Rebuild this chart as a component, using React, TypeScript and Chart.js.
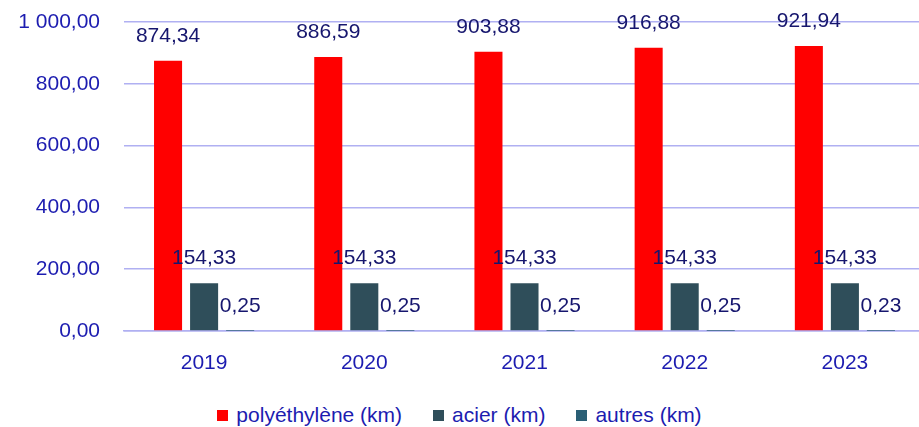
import React, { useEffect, useRef } from "react";
import { Chart, registerables } from "chart.js";

Chart.register(...registerables);

const years = ["2019", "2020", "2021", "2022", "2023"];
const polyethylene = [874.34, 886.59, 903.88, 916.88, 921.94];
const acier = [154.33, 154.33, 154.33, 154.33, 154.33];
const autres = [0.25, 0.25, 0.25, 0.25, 0.23];
const seriesNames = ["polyéthylène (km)", "acier (km)", "autres (km)"];
const seriesColors = ["#ff0000", "#2f4e5a", "#2a5f75"];
const yTicks = [0, 200, 400, 600, 800, 1000];

const FONT = "'Liberation Sans', Arial, sans-serif";
const TICK_COLOR = "#1c1cb0";
const LABEL_COLOR = "#16166e";
const GRID_COLOR = "#b0b0f2";

function fmt(v: number): string {
  const s = v.toFixed(2);
  const [i, d] = s.split(".");
  const withSep = i.replace(/\B(?=(\d{3})+(?!\d))/g, " ");
  return withSep + "," + d;
}

const labelPlugin = {
  id: "valueLabels",
  afterDatasetsDraw(chart: any) {
    const ctx = chart.ctx;
    ctx.save();
    ctx.font = `21px ${FONT}`;
    ctx.fillStyle = LABEL_COLOR;
    ctx.textAlign = "center";
    ctx.textBaseline = "alphabetic";
    chart.data.datasets.forEach((ds: any, di: number) => {
      const meta = chart.getDatasetMeta(di);
      meta.data.forEach((el: any, i: number) => {
        ctx.fillText(fmt(ds.data[i]), el.x, el.y - 19);
      });
    });
    ctx.restore();
  },
};

export default function App() {
  const ref = useRef<HTMLCanvasElement | null>(null);

  useEffect(() => {
    if (!ref.current) return;
    const chart = new Chart(ref.current, {
      type: "bar",
      data: {
        labels: years,
        datasets: [polyethylene, acier, autres].map((d, i) => ({
          label: seriesNames[i],
          data: d,
          backgroundColor: seriesColors[i],
          borderWidth: 0,
          categoryPercentage: 0.675,
          barPercentage: 0.778,
        })),
      },
      options: {
        responsive: false,
        animation: false,
        layout: { padding: { top: 22, left: 0, right: 0, bottom: 0 } },
        plugins: {
          legend: { display: false },
          tooltip: { enabled: false },
        },
        scales: {
          x: {
            grid: { display: false, drawTicks: false },
            border: { display: true, color: GRID_COLOR, width: 1.5 },
            ticks: {
              padding: 20,
              color: TICK_COLOR,
              font: { family: FONT, size: 21 },
            },
            afterFit(scale: any) {
              scale.height = 72;
              scale.paddingLeft = 0;
              scale.paddingRight = 0;
            },
          },
          y: {
            min: 0,
            max: 1000,
            afterBuildTicks(scale: any) {
              scale.ticks = yTicks.map((v) => ({ value: v }));
            },
            grid: { color: GRID_COLOR, lineWidth: 1.5, drawTicks: false },
            border: { display: false },
            ticks: {
              padding: 24,
              color: TICK_COLOR,
              font: { family: FONT, size: 21 },
              callback: (v: any) => fmt(Number(v)),
            },
            afterFit(scale: any) {
              scale.width = 124;
              scale.paddingTop = 0;
              scale.paddingBottom = 0;
            },
          },
        },
      },
      plugins: [labelPlugin],
    });
    return () => chart.destroy();
  }, []);

  return (
    <div
      style={{
        position: "absolute",
        left: 0,
        top: 0,
        width: 919,
        height: 427,
        overflow: "hidden",
        background: "#ffffff",
      }}
    >
      <canvas ref={ref} width={925} height={403} style={{ display: "block" }} />
      <div
        style={{
          position: "absolute",
          left: 0,
          top: 403,
          width: 919,
          height: 24,
          display: "flex",
          justifyContent: "center",
          alignItems: "center",
          gap: 31,
          fontFamily: FONT,
          fontSize: 21,
          color: TICK_COLOR,
          lineHeight: "24px",
        }}
      >
        {seriesNames.map((n, i) => (
          <div key={n} style={{ display: "flex", alignItems: "center" }}>
            <span
              style={{
                display: "inline-block",
                width: 11,
                height: 11,
                background: seriesColors[i],
                marginRight: 8,
              }}
            />
            <span>{n}</span>
          </div>
        ))}
      </div>
    </div>
  );
}
